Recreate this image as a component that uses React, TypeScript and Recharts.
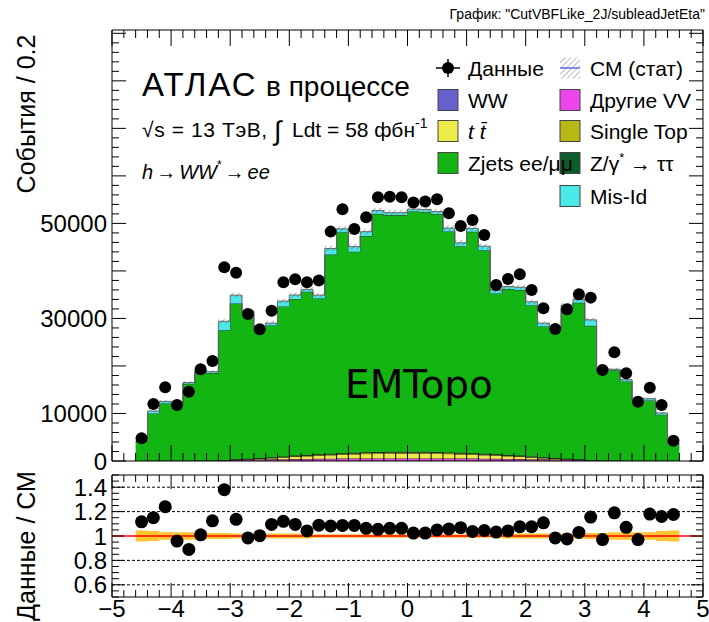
import React from "react";
import { ComposedChart, Area, Scatter, XAxis, YAxis, ReferenceLine } from "recharts";

const FONT = "'Liberation Sans', Arial, Helvetica, sans-serif";

// 46 bins of width 0.2, from -4.6 to 4.6
const binLow = -4.6;
const binWidth = 0.2;

const dataEvents = [
  4780, 12000, 15510, 11790, 14590, 19300, 21050, 40770, 39640, 30940,
  27720, 31640, 37610, 38240, 37610, 37960, 48270, 52980, 48840, 51290,
  55500, 55600, 55500, 54380, 54590, 55080, 52140, 49470, 50730, 47570,
  37050, 38310, 39300, 35990, 32130, 27790, 31930, 35080, 34380, 19160,
  22880, 18460, 12480, 15430, 11790, 4270,
];
const ww = [
  0, 0, 0, 5, 5, 10, 10, 15, 20, 25, 30, 35, 40, 45, 50, 50, 55, 55, 60, 60,
  60, 60, 60, 60, 60, 60, 60, 55, 55, 50, 50, 50, 45, 40, 35, 30, 25, 20, 15, 10,
  10, 5, 5, 0, 0, 0,
];
const otherVV = [
  0, 0, 0, 0, 0, 5, 10, 30, 200, 250, 280, 310, 340, 370, 390, 410, 430, 450, 460, 470,
  480, 490, 490, 490, 490, 480, 470, 460, 450, 430, 410, 390, 370, 340, 310, 280, 250, 200, 30, 10,
  5, 0, 0, 0, 0, 0,
];
const ttbar = [
  0, 0, 0, 0, 0, 10, 20, 40, 80, 120, 200, 300, 420, 540, 620, 720, 800, 880, 950, 1020,
  1060, 1100, 1110, 1110, 1100, 1060, 1010, 950, 880, 800, 720, 620, 540, 420, 300, 200, 120, 80, 40, 20,
  10, 0, 0, 0, 0, 0,
];
const singleTop = [
  0, 0, 0, 0, 0, 0, 0, 0, 0, 10, 30, 60, 80, 100, 120, 140, 160, 170, 180, 190,
  200, 200, 200, 200, 200, 200, 190, 180, 170, 160, 140, 120, 100, 80, 60, 30, 10, 0, 0, 0,
  0, 0, 0, 0, 0, 0,
];
const ztautau = [
  20, 40, 50, 50, 60, 60, 70, 80, 80, 80, 80, 80, 80, 80, 80, 80, 80, 80, 80, 80,
  80, 80, 80, 80, 80, 80, 80, 80, 80, 80, 80, 80, 80, 80, 80, 80, 80, 80, 80, 70,
  60, 60, 50, 50, 40, 20,
];
const zjets = [
  4030, 9970, 12050, 12050, 16190, 18620, 18390, 27340, 32770, 30770,
  27380, 27730, 31570, 32960, 34370, 32800, 41920, 46520, 42320, 45530,
  50120, 49830, 49820, 50570, 50480, 50110, 46490, 43480, 46620, 42840,
  33850, 34950, 34860, 31840, 27520, 27330, 31760, 32920, 28280, 18480,
  19020, 16690, 12560, 12700, 9710, 3530,
];
const misId = [
  100, 490, 450, 300, 250, 300, 300, 1900, 1750, 350, 300, 490, 1120, 840, 490, 700, 1260, 700, 1050, 910,
  700, 490, 490, 490, 490, 490, 700, 700, 700, 840, 700, 490, 560, 700, 700, 350, 560, 700, 1260, 910,
  200, 350, 490, 350, 350, 100,
];
const statErr = [
  150, 250, 280, 280, 320, 340, 340, 450, 500, 480, 450, 450, 500, 500, 520, 500, 580, 600, 580, 600,
  620, 620, 620, 620, 620, 620, 600, 580, 600, 580, 520, 520, 520, 500, 450, 450, 500, 500, 450, 340,
  340, 320, 280, 280, 250, 150,
];
const ratio = [
  1.116, 1.15, 1.24, 0.958, 0.89, 1.01, 1.124, 1.38, 1.137, 0.984,
  1.003, 1.095, 1.12, 1.095, 1.042, 1.089, 1.082, 1.087, 1.087, 1.063,
  1.055, 1.063, 1.063, 1.024, 1.024, 1.05, 1.058, 1.068, 1.037, 1.045,
  1.032, 1.042, 1.076, 1.076, 1.108, 0.984, 0.976, 1.029, 1.155, 0.971,
  1.19, 1.071, 0.971, 1.18, 1.16, 1.176,
];
const ratioErr = [
  0.045, 0.04, 0.03, 0.03, 0.03, 0.03, 0.025, 0.025, 0.02, 0.02,
  0.02, 0.02, 0.02, 0.02, 0.02, 0.015, 0.015, 0.015, 0.015, 0.015,
  0.015, 0.015, 0.015, 0.015, 0.015, 0.015, 0.015, 0.015, 0.015, 0.015,
  0.015, 0.02, 0.02, 0.02, 0.02, 0.02, 0.02, 0.02, 0.025, 0.025,
  0.03, 0.03, 0.03, 0.03, 0.04, 0.045,
];

const xMajor = [-5, -4, -3, -2, -1, 0, 1, 2, 3, 4, 5];
const yLabels = [0, 10000, 30000, 50000];
const ratioLabels = [0.6, 0.8, 1, 1.2, 1.4];
const ratioGrid = [0.6, 0.8, 1.2, 1.4];

const r2 = (v: number) => Math.round(v * 100) / 100;

// one row per bin edge, last edge repeats the last bin (step histogram)
const rows = Array.from({ length: dataEvents.length + 1 }, (_, i) => {
  const j = Math.min(i, dataEvents.length - 1);
  const total = ww[j] + otherVV[j] + ttbar[j] + singleTop[j] + ztautau[j] + zjets[j] + misId[j];
  return {
    x: r2(binLow + i * binWidth),
    ww: ww[j],
    vv: otherVV[j],
    tt: ttbar[j],
    st: singleTop[j],
    ztt: ztautau[j],
    zjets: zjets[j],
    misid: misId[j],
    stat: [total - statErr[j], total + statErr[j]],
    band: [1 - ratioErr[j], 1 + ratioErr[j]],
  };
});
const dataPoints = dataEvents.map((y, i) => ({ x: r2(binLow + (i + 0.5) * binWidth), y }));
const ratioPoints = ratio.map((y, i) => ({ x: r2(binLow + (i + 0.5) * binWidth), y }));

const xTicks = Array.from({ length: 51 }, (_, i) => r2(-5 + i * 0.2));
const yTicks = Array.from({ length: 46 }, (_, i) => i * 2000);
const rTicks = Array.from({ length: 21 }, (_, i) => r2(0.5 + i * 0.05));

const isXMajor = (v: number) => xMajor.includes(v);
const isYMajor = (v: number) => v % 10000 === 0;
const isRMajor = (v: number) => Math.abs(v * 5 - Math.round(v * 5)) < 1e-6;
const fmtX = (v: number) => (xMajor.includes(v) ? (v < 0 ? "\u2212" + Math.abs(v) : String(v)) : null);
const fmtY = (v: number) => (yLabels.includes(v) ? String(v) : null);
const fmtR = (v: number) => (ratioLabels.includes(v) ? String(v) : null);

type Side = "bottom" | "top" | "left" | "right";

// ROOT style ticks: drawn inward from the frame
function tickRenderer(
  side: Side,
  major: number,
  minor: number,
  isMajor: (v: number) => boolean,
  label?: (v: number) => string | null
) {
  return (p: any) => {
    const { x, y, payload } = p;
    const v = Number(payload.value);
    const len = isMajor(v) ? major : minor;
    const txt = label ? label(v) : null;
    const dx = side === "left" ? len : side === "right" ? -len : 0;
    const dy = side === "bottom" ? -len : side === "top" ? len : 0;
    return (
      <g>
        <line x1={x} y1={y} x2={x + dx} y2={y + dy} stroke="#000" strokeWidth={1} />
        {txt && side === "bottom" && (
          <text x={x} y={y + 20} textAnchor="middle" fontSize={24} fontFamily={FONT} fill="#000">
            {txt}
          </text>
        )}
        {txt && side === "left" && (
          <text x={x - 5} y={y + 8.5} textAnchor="end" fontSize={24} fontFamily={FONT} fill="#000">
            {txt}
          </text>
        )}
      </g>
    );
  };
}

const dot = (r: number) => (p: any) => <circle cx={p.cx} cy={p.cy} r={r} fill="#000" />;

const axisCommon = {
  tickSize: 0,
  tickMargin: 0,
  tickLine: false,
  interval: 0 as const,
  allowDataOverflow: true,
  axisLine: { stroke: "#000", strokeWidth: 1 },
};

function MainPanel() {
  return (
    <ComposedChart width={709} height={470} data={rows} margin={{ top: 29, right: 0, bottom: 0, left: 0 }}>
      <defs>
        <pattern id="hatch" width="4" height="4" patternUnits="userSpaceOnUse" patternTransform="rotate(45)">
          <line x1="0" y1="0" x2="0" y2="4" stroke="#666" strokeWidth="1" />
        </pattern>
      </defs>
      <Area stackId="mc" dataKey="ww" type="stepAfter" fill="#6a62cc" fillOpacity={1} stroke="#222" strokeWidth={1} dot={false} activeDot={false} isAnimationActive={false} />
      <Area stackId="mc" dataKey="vv" type="stepAfter" fill="#ee44ee" fillOpacity={1} stroke="#222" strokeWidth={1} dot={false} activeDot={false} isAnimationActive={false} />
      <Area stackId="mc" dataKey="tt" type="stepAfter" fill="#eeea48" fillOpacity={1} stroke="#222" strokeWidth={1} dot={false} activeDot={false} isAnimationActive={false} />
      <Area stackId="mc" dataKey="st" type="stepAfter" fill="#b8b814" fillOpacity={1} stroke="#222" strokeWidth={1} dot={false} activeDot={false} isAnimationActive={false} />
      <Area stackId="mc" dataKey="ztt" type="stepAfter" fill="#0c5c2c" fillOpacity={1} stroke="#222" strokeWidth={1} dot={false} activeDot={false} isAnimationActive={false} />
      <Area stackId="mc" dataKey="zjets" type="stepAfter" fill="#13b513" fillOpacity={1} stroke="#333" strokeWidth={1} dot={false} activeDot={false} isAnimationActive={false} />
      <Area stackId="mc" dataKey="misid" type="stepAfter" fill="#4ae8e8" fillOpacity={1} stroke="#666" strokeWidth={1} dot={false} activeDot={false} isAnimationActive={false} />
      <Area dataKey="stat" type="stepAfter" fill="url(#hatch)" fillOpacity={1} stroke="none" dot={false} activeDot={false} isAnimationActive={false} />
      <XAxis dataKey="x" type="number" domain={[-5, 5]} ticks={xTicks} height={9} {...axisCommon} tick={tickRenderer("bottom", 16, 8, isXMajor)} />
      <XAxis xAxisId="top" orientation="top" dataKey="x" type="number" domain={[-5, 5]} ticks={xTicks} height={1} {...axisCommon} tick={tickRenderer("top", 16, 8, isXMajor)} />
      <YAxis type="number" domain={[0, 90700]} ticks={yTicks} width={112} {...axisCommon} tick={tickRenderer("left", 14, 7, isYMajor, fmtY)} />
      <YAxis yAxisId="right" orientation="right" type="number" domain={[0, 90700]} ticks={yTicks} width={6} {...axisCommon} tick={tickRenderer("right", 14, 7, isYMajor)} />
      <Scatter data={dataPoints} dataKey="y" shape={dot(6)} isAnimationActive={false} />
    </ComposedChart>
  );
}

function RatioPanel() {
  return (
    <ComposedChart width={709} height={152} data={rows} margin={{ top: 4, right: 0, bottom: 0, left: 0 }}>
      <Area dataKey="band" type="stepAfter" fill="#fdc530" fillOpacity={1} stroke="none" dot={false} activeDot={false} isAnimationActive={false} />
      {ratioGrid.map((v) => (
        <ReferenceLine key={v} y={v} stroke="#000" strokeWidth={1} strokeDasharray="3 2" />
      ))}
      <ReferenceLine y={1} stroke="#ff0000" strokeWidth={1.5} />
      <XAxis dataKey="x" type="number" domain={[-5, 5]} ticks={xTicks} height={25} {...axisCommon} tick={tickRenderer("bottom", 14, 7, isXMajor, fmtX)} />
      <XAxis xAxisId="top" orientation="top" dataKey="x" type="number" domain={[-5, 5]} ticks={xTicks} height={1} {...axisCommon} tick={tickRenderer("top", 14, 7, isXMajor)} />
      <YAxis type="number" domain={[0.5, 1.5]} ticks={rTicks} width={112} {...axisCommon} tick={tickRenderer("left", 12, 7, isRMajor, fmtR)} />
      <YAxis yAxisId="right" orientation="right" type="number" domain={[0.5, 1.5]} ticks={rTicks} width={6} {...axisCommon} tick={tickRenderer("right", 12, 7, isRMajor)} />
      <Scatter data={ratioPoints} dataKey="y" shape={dot(6.5)} isAnimationActive={false} />
    </ComposedChart>
  );
}

function LegendBox({ x, y, color }: { x: number; y: number; color: string }) {
  return <rect x={x} y={y - 10.5} width={20} height={21} fill={color} stroke="#444" strokeWidth={1} />;
}

function Overlay() {
  const rowY = [68, 100, 131, 163, 196];
  const c1 = 438;
  const c2 = 560;
  const t1 = 468;
  const t2 = 590;
  const fs = 21;
  return (
    <svg width={709} height={622} style={{ position: "absolute", left: 0, top: 0, pointerEvents: "none" }} fontFamily={FONT}>
      <defs>
        <pattern id="hatchL" width="4" height="4" patternUnits="userSpaceOnUse" patternTransform="rotate(45)">
          <line x1="0" y1="0" x2="0" y2="4" stroke="#777" strokeWidth="1" />
        </pattern>
      </defs>
      <text x={705} y={19} textAnchor="end" fontSize={14} fill="#000">
        График: "CutVBFLike_2J/subleadJetEta"
      </text>

      <text x={142} y={96} fontSize={33} letterSpacing={2} fill="#000">АТЛАС</text>
      <text x={266} y={96} fontSize={28} fill="#000">в процессе</text>
      <text x={142} y={137} fontSize={21} letterSpacing={0.6} fill="#000">√s = 13 ТэВ,</text>
      <text x={274} y={140} fontSize={27} fill="#000">∫</text>
      <text x={292} y={137} fontSize={21} fill="#000">
        Ldt = 58 фбн<tspan fontSize={14} dy={-9}>-1</tspan>
      </text>
      <text x={142} y={179} fontSize={20} fill="#000">
        <tspan fontStyle="italic">h</tspan>
        <tspan dx={3}>→</tspan>
        <tspan dx={3} fontStyle="italic">WW</tspan>
        <tspan fontSize={12} dy={-10}>*</tspan>
        <tspan dx={3} dy={10}>→</tspan>
        <tspan dx={3} fontStyle="italic">ee</tspan>
      </text>
      <text x={345} y={398} fontSize={39} fontFamily="'DejaVu Sans', sans-serif" fill="#000">EMTopo</text>

      {/* legend, column 2 (boxes first: column 1 text runs over them) */}
      <rect x={c2} y={rowY[0] - 10.5} width={20} height={21} fill="url(#hatchL)" />
      <line x1={c2} y1={rowY[0]} x2={c2 + 20} y2={rowY[0]} stroke="#6666ee" strokeWidth={1.5} />
      <text x={t2} y={rowY[0] + 7.5} fontSize={fs} fill="#000">СМ (стат)</text>
      <LegendBox x={c2} y={rowY[1]} color="#ee44ee" />
      <text x={t2} y={rowY[1] + 7.5} fontSize={fs} fill="#000">Другие VV</text>
      <LegendBox x={c2} y={rowY[2]} color="#b8b814" />
      <text x={t2} y={rowY[2] + 7.5} fontSize={fs} fill="#000">Single Top</text>
      <LegendBox x={c2} y={rowY[3]} color="#0c5c2c" />
      <text x={t2} y={rowY[3] + 7.5} fontSize={fs} fill="#000">
        Z/γ<tspan fontSize={13} dy={-9}>*</tspan>
        <tspan dy={9}> → ττ</tspan>
      </text>
      <LegendBox x={c2} y={rowY[4]} color="#4ae8e8" />
      <text x={t2} y={rowY[4] + 7.5} fontSize={fs} fill="#000">Mis-Id</text>

      {/* legend, column 1 */}
      <line x1={c1 - 2} y1={rowY[0]} x2={c1 + 22} y2={rowY[0]} stroke="#000" strokeWidth={1.5} />
      <line x1={c1 + 10} y1={rowY[0] - 9} x2={c1 + 10} y2={rowY[0] + 9} stroke="#000" strokeWidth={1.5} />
      <circle cx={c1 + 10} cy={rowY[0]} r={6} fill="#000" />
      <text x={t1} y={rowY[0] + 7.5} fontSize={fs} fill="#000">Данные</text>
      <LegendBox x={c1} y={rowY[1]} color="#6a62cc" />
      <text x={t1} y={rowY[1] + 7.5} fontSize={fs} fill="#000">WW</text>
      <LegendBox x={c1} y={rowY[2]} color="#eeea48" />
      <text x={t1} y={rowY[2] + 7.5} fontSize={fs} fill="#000" fontStyle="italic">t t̄</text>
      <LegendBox x={c1} y={rowY[3]} color="#13b513" />
      <text x={t1} y={rowY[3] + 7.5} fontSize={fs} fill="#000">Zjets ee/μμ</text>

      {/* axis titles */}
      <text transform="translate(35,114) rotate(-90)" textAnchor="middle" fontSize={25} fill="#000">
        События / 0.2
      </text>
      <text transform="translate(35,546) rotate(-90)" textAnchor="middle" fontSize={25} fill="#000">
        Данные / СМ
      </text>
    </svg>
  );
}

export default function App() {
  return (
    <div style={{ position: "absolute", left: 0, top: 0, width: 709, height: 622, background: "#fff", overflow: "hidden", fontFamily: FONT }}>
      <style>{".recharts-surface { overflow: visible; }"}</style>
      <div style={{ position: "absolute", left: 0, top: 0 }}>
        <MainPanel />
      </div>
      <div style={{ position: "absolute", left: 0, top: 470 }}>
        <RatioPanel />
      </div>
      <Overlay />
    </div>
  );
}
